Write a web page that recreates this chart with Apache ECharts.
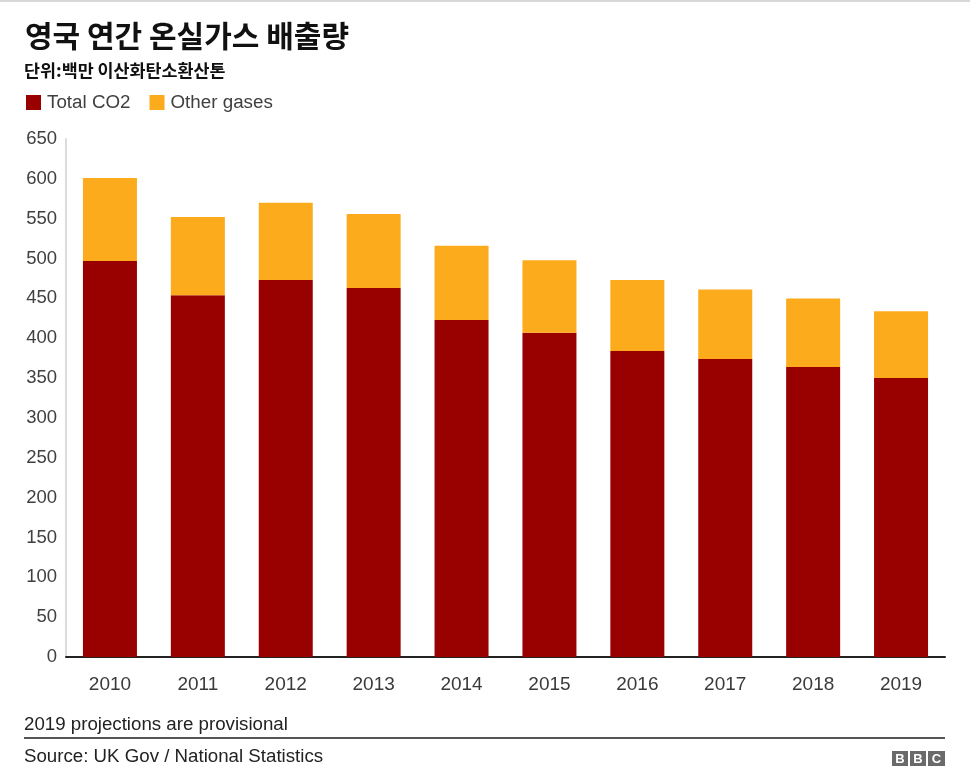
<!DOCTYPE html>
<html><head><meta charset="utf-8">
<script src="https://cdn.jsdelivr.net/npm/echarts@6/dist/echarts.min.js"></script>
<style>html,body{margin:0;padding:0;background:#fff}#c{width:970px;height:781px}</style>
</head><body><div id="c"></div>
<script>
const years = ['2010','2011','2012','2013','2014','2015','2016','2017','2018','2019'];
const totalCO2 = [497, 454, 473, 463, 423, 407, 384, 374, 364, 350];
const otherGases = [104, 98, 97, 93, 93, 91, 89, 87, 86, 84];
const yTicks = {min: 0, max: 650, interval: 50};

const chart = echarts.init(document.getElementById('c'), null, {renderer: 'canvas'});
const latin = 'Liberation Sans, Arial, sans-serif';
const kr = '"Noto Sans CJK KR", sans-serif';
chart.setOption({
  animation: false,
  backgroundColor: '#fff',
  grid: {left: 66, top: 139, width: 879, height: 518, containLabel: false},
  legend: {
    left: 21, top: 88, itemWidth: 15, itemHeight: 15, itemGap: 19, icon: 'rect',
    textStyle: {fontFamily: latin, fontSize: 18.8, color: '#404040', padding: [0, 0, 0, 1]},
    data: ['Total CO2', 'Other gases']
  },
  xAxis: {
    type: 'category', data: years,
    axisLine: {lineStyle: {color: '#222', width: 2}},
    axisTick: {show: false},
    axisLabel: {fontFamily: latin, fontSize: 19, color: '#3a3a3a', margin: 18}
  },
  yAxis: {
    type: 'value', min: yTicks.min, max: yTicks.max, interval: yTicks.interval,
    axisLine: {show: true, lineStyle: {color: '#dcdcdc', width: 2}},
    axisTick: {show: false},
    splitLine: {show: false},
    axisLabel: {fontFamily: latin, fontSize: 18.5, color: '#404040', margin: 9}
  },
  series: [
    {name: 'Total CO2', type: 'bar', stack: 'a', data: totalCO2, barWidth: 54,
     itemStyle: {color: '#990000'}},
    {name: 'Other gases', type: 'bar', stack: 'a', data: otherGases, barWidth: 54,
     itemStyle: {color: '#fbab1b'}}
  ],
  graphic: [
    {type: 'rect', left: 0, top: 0, shape: {width: 970, height: 2}, style: {fill: '#d8d8d8'}},
    {type: 'text', left: 25, top: 21, style: {text: '영국 연간 온실가스 배출량', font: 'bold 30px ' + kr, fill: '#111'}},
    {type: 'text', left: 24, top: 62, style: {text: '단위:백만 이산화탄소환산톤', font: 'bold 17.4px ' + kr, fill: '#111'}},
    {type: 'text', left: 24, top: 715, style: {text: '2019 projections are provisional', font: '18.7px ' + latin, fill: '#222'}},
    {type: 'rect', left: 24, top: 737, shape: {width: 921, height: 2}, style: {fill: '#555'}},
    {type: 'text', left: 24, top: 747, style: {text: 'Source: UK Gov / National Statistics', font: '18.7px ' + latin, fill: '#222'}},
    {type: 'group', left: 892, top: 751, children: [
      {type: 'rect', shape: {x: 0, y: 0, width: 16, height: 15}, style: {fill: '#6a6a6a'}},
      {type: 'rect', shape: {x: 18, y: 0, width: 16, height: 15}, style: {fill: '#6a6a6a'}},
      {type: 'rect', shape: {x: 36, y: 0, width: 17, height: 15}, style: {fill: '#6a6a6a'}},
      {type: 'text', style: {x: 8, y: 8, text: 'B', font: 'bold 13px ' + latin, fill: '#fff', align: 'center', verticalAlign: 'middle'}},
      {type: 'text', style: {x: 26, y: 8, text: 'B', font: 'bold 13px ' + latin, fill: '#fff', align: 'center', verticalAlign: 'middle'}},
      {type: 'text', style: {x: 44.5, y: 8, text: 'C', font: 'bold 13px ' + latin, fill: '#fff', align: 'center', verticalAlign: 'middle'}}
    ]}
  ]
});
</script></body></html>
